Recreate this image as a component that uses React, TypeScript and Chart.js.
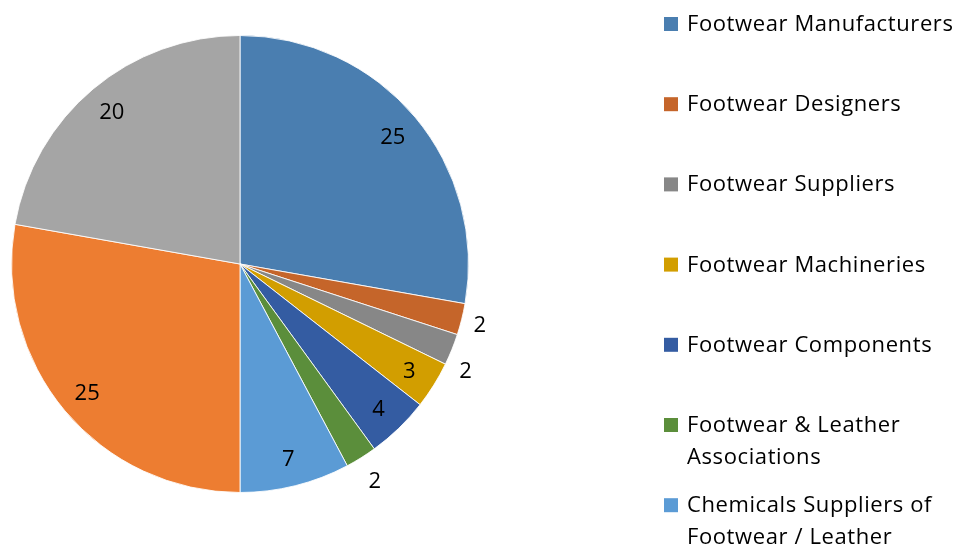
import React, { useEffect, useRef } from "react";
import { Chart, registerables } from "chart.js";

Chart.register(...registerables);

const categories = [
  "Footwear Manufacturers",
  "Footwear Designers",
  "Footwear Suppliers",
  "Footwear Machineries",
  "Footwear Components",
  "Footwear & Leather Associations",
  "Chemicals Suppliers of Footwear / Leather",
  "Footwear Retailers",
  "Footwear Distributors",
];
const values = [25, 2, 2, 3, 4, 2, 7, 25, 20];
const colors = [
  "#4A7EB0",
  "#C5652A",
  "#878787",
  "#D29E00",
  "#345CA2",
  "#5B8E3B",
  "#5B9BD5",
  "#ED7D31",
  "#A5A5A5",
];

const FONT = "'Open Sans', 'Noto Sans', sans-serif";

const sliceLabels = {
  id: "sliceLabels",
  afterDatasetsDraw(chart: any) {
    const ctx = chart.ctx;
    const meta = chart.getDatasetMeta(0);
    ctx.save();
    ctx.font = `22px ${FONT}`;
    ctx.fillStyle = "#000";
    ctx.textAlign = "center";
    ctx.textBaseline = "alphabetic";
    const digitH = 16;
    let prevOut: { x: number; y: number } | null = null;
    meta.data.forEach((arc: any, i: number) => {
      const p = arc.getProps(["x", "y", "startAngle", "endAngle", "outerRadius"], true);
      const mid = (p.startAngle + p.endAngle) / 2;
      const v = values[i];
      const txt = String(v);
      const c = Math.cos(mid);
      const s = Math.sin(mid);
      let x: number;
      let y: number;
      if (v >= 3) {
        const r = p.outerRadius - 29;
        x = p.x + c * r;
        y = p.y + s * r;
      } else {
        const w = ctx.measureText(txt).width + 1;
        const h = 34;
        const ext = Math.abs(c) * w / 2 + Math.abs(s) * h / 2;
        const r = p.outerRadius + 8 + ext;
        x = p.x + c * r;
        y = p.y + s * r;
        if (prevOut && Math.abs(y - prevOut.y) < 46 && Math.abs(x - prevOut.x) < 40) {
          y = prevOut.y + 46;
          const dy = y - p.y;
          x = p.x + Math.sign(c) * Math.sqrt(Math.max(r * r - dy * dy, 0));
        }
        prevOut = { x, y };
      }
      ctx.fillText(txt, x, y + digitH / 2);
    });
    ctx.restore();
  },
};

function wrap(ctx: CanvasRenderingContext2D, text: string, maxW: number) {
  const words = text.split(" ");
  const lines: string[] = [];
  let cur = "";
  for (const w of words) {
    const t = cur ? cur + " " + w : w;
    if (ctx.measureText(t).width > maxW && cur) {
      lines.push(cur);
      cur = w;
    } else cur = t;
  }
  if (cur) lines.push(cur);
  return lines;
}

const sideLegend = {
  id: "sideLegend",
  afterDraw(chart: any) {
    const ctx = chart.ctx;
    const labels = chart.data.labels as string[];
    const bg = chart.data.datasets[0].backgroundColor as string[];
    const boxX = chart.chartArea.right + 195;
    const textX = boxX + 23;
    const firstBaseline = 31;
    const step = 80.2;
    const lineH = 31.5;
    ctx.save();
    ctx.font = `22px ${FONT}`;
    (ctx as any).letterSpacing = "0.6px";
    ctx.textBaseline = "alphabetic";
    ctx.textAlign = "left";
    labels.forEach((lab, i) => {
      const base = firstBaseline + i * step;
      ctx.fillStyle = bg[i];
      ctx.fillRect(boxX, base - 14, 14, 14);
      ctx.fillStyle = "#000";
      const lines = wrap(ctx, lab, 280);
      lines.forEach((ln, j) => ctx.fillText(ln, textX, base + j * lineH));
    });
    ctx.restore();
  },
};

export default function App() {
  const ref = useRef<HTMLCanvasElement>(null);
  useEffect(() => {
    if (!ref.current) return;
    const chart = new Chart(ref.current, {
      type: "pie",
      data: {
        labels: categories,
        datasets: [
          {
            data: values,
            backgroundColor: colors,
            borderColor: "rgba(255,255,255,0.85)",
            borderWidth: 1,
          },
        ],
      },
      options: {
        responsive: false,
        animation: false,
        layout: { padding: { left: 11, right: 492, top: 35, bottom: 59 } },
        plugins: {
          legend: { display: false },
          tooltip: { enabled: false },
        },
      },
      plugins: [sliceLabels, sideLegend],
    });
    return () => chart.destroy();
  }, []);
  return (
    <div style={{ position: "absolute", left: 0, top: 0, width: 961, height: 552, background: "#fff" }}>
      <canvas ref={ref} width={961} height={552} style={{ display: "block" }} />
    </div>
  );
}
